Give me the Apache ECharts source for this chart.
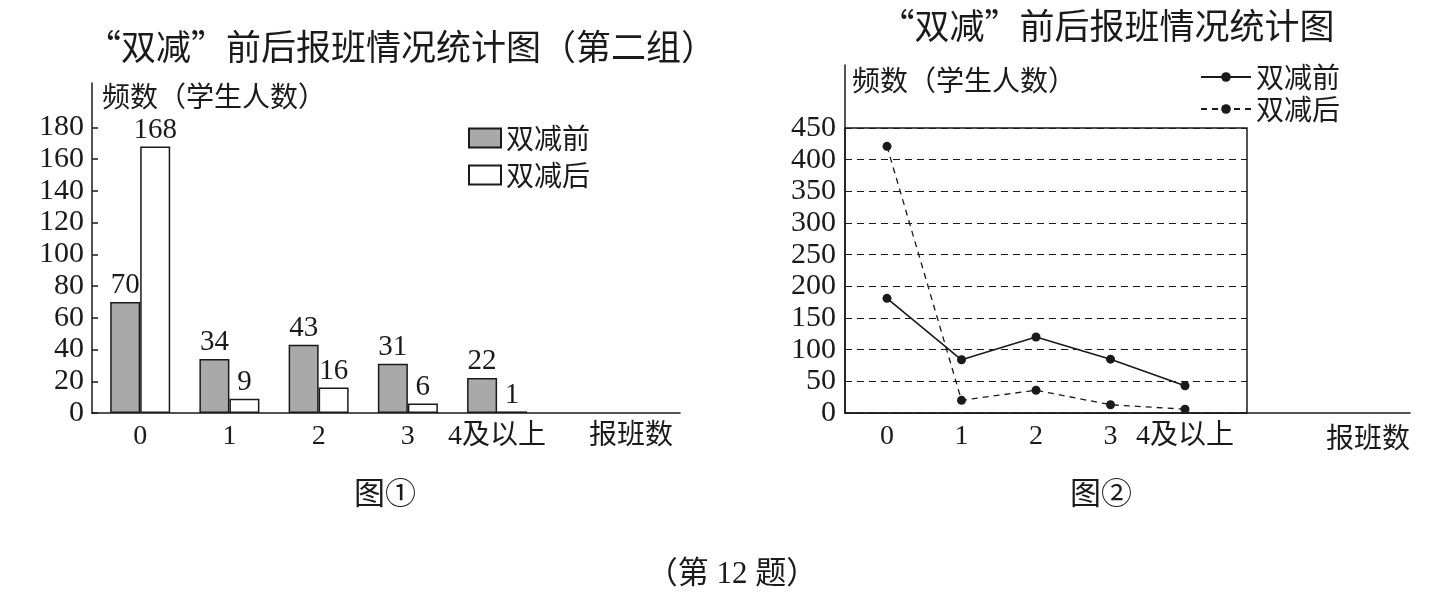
<!DOCTYPE html>
<html>
<head>
<meta charset="utf-8">
<script src="https://cdn.jsdelivr.net/npm/echarts@6/dist/echarts.min.js"></script>
<style>
  html, body { margin: 0; padding: 0; background: #fff; }
  #main { width: 1448px; height: 594px; }
</style>
</head>
<body>
<div id="main"></div>
<script>
// data
const classCounts = ['0', '1', '2', '3', '4及以上'];
const barBefore = [70, 34, 43, 31, 22];
const barAfter = [168, 9, 16, 6, 1];
const lineBefore = [181, 84, 120, 85, 43];
const lineAfter = [421, 20, 36, 13, 6];
const barYTicks = [0, 20, 40, 60, 80, 100, 120, 140, 160, 180];
const lineYTicks = [0, 50, 100, 150, 200, 250, 300, 350, 400, 450];

const FONT = "'Liberation Serif', 'Noto Sans CJK SC', serif";
const CJK = "'Noto Sans CJK SC', 'Liberation Serif', serif";
const INK = '#1a1a1a';

const chart = echarts.init(document.getElementById('main'));

const pairs = (vals) => vals.map((v, i) => [i, v]);
const catName = (v) => (classCounts[v] !== undefined ? classCounts[v] : '报班数');

chart.setOption({
  backgroundColor: '#fff',
  textStyle: { fontFamily: FONT, color: INK },
  animation: false,
  title: [
    { text: '“双减”前后报班情况统计图（第二组）', left: 396, top: 24, textAlign: 'center',
      textStyle: { fontFamily: CJK, fontSize: 35, fontWeight: 'normal', color: INK } },
    { text: '“双减”前后报班情况统计图', left: 1102, top: 3, textAlign: 'center',
      textStyle: { fontFamily: CJK, fontSize: 35, fontWeight: 'normal', color: INK } },
    { text: '图①', left: 380, top: 472, textAlign: 'center',
      textStyle: { fontFamily: CJK, fontSize: 31, fontWeight: 'normal', color: INK } },
    { text: '图②', left: 1096, top: 472, textAlign: 'center',
      textStyle: { fontFamily: CJK, fontSize: 31, fontWeight: 'normal', color: INK } },
    { text: '（第 12 题）', left: 727, top: 554, textAlign: 'center',
      textStyle: { fontFamily: FONT, fontSize: 31, fontWeight: 'normal', color: INK } }
  ],
  legend: [
    { data: ['双减前', '双减后'], orient: 'vertical', left: 463, top: 119, itemGap: 9,
      itemWidth: 32, itemHeight: 19, icon: 'rect',
      textStyle: { fontFamily: CJK, fontSize: 28, color: INK } },
    { data: ['双减前 ', '双减后 '], orient: 'vertical', left: 1195, top: 58, itemGap: 4,
      itemWidth: 50, itemHeight: 12,
      textStyle: { fontFamily: CJK, fontSize: 28, color: INK } }
  ],
  grid: [
    { left: 92, right: 768, top: 83, bottom: 181 },
    { left: 845, right: 201, top: 128, bottom: 181, show: true, borderColor: INK, borderWidth: 1.5 },
    { left: 845, right: 38, top: 65, bottom: 181 }
  ],
  xAxis: [
    { gridIndex: 0, type: 'value', min: -0.54, max: 6.05,
      axisLine: { onZero: false, lineStyle: { color: INK, width: 1.5 } },
      axisTick: { show: false }, splitLine: { show: false },
      axisLabel: { customValues: [0, 1, 2, 3, 4, 5.5], formatter: catName, margin: 10,
        fontFamily: FONT, fontSize: 28, color: INK } },
    { gridIndex: 1, type: 'value', min: -0.564, max: 4.832,
      axisLine: { show: false, onZero: false }, axisTick: { show: false }, splitLine: { show: false },
      axisLabel: { customValues: [0, 1, 2, 3, 4], formatter: catName, margin: 10,
        fontFamily: FONT, fontSize: 28, color: INK } },
    { gridIndex: 2, type: 'value', min: 0, max: 1,
      axisLine: { onZero: false, lineStyle: { color: INK, width: 1.5 } },
      axisTick: { show: false }, splitLine: { show: false }, axisLabel: { show: false },
      name: '报班数', nameLocation: 'end', nameGap: 0,
      nameTextStyle: { align: 'right', verticalAlign: 'top', padding: [10, 0, 0, 0],
        fontFamily: CJK, fontSize: 28, color: INK } }
  ],
  yAxis: [
    { gridIndex: 0, type: 'value', min: 0, max: 208,
      axisLine: { show: true, onZero: false, lineStyle: { color: INK, width: 1.5 } },
      axisTick: { show: true, inside: true, length: 6, customValues: barYTicks, lineStyle: { color: INK, width: 1.5 } },
      splitLine: { show: false },
      axisLabel: { customValues: barYTicks, margin: 8, fontFamily: FONT, fontSize: 30, color: INK },
      name: '频数（学生人数）', nameLocation: 'end', nameGap: -27,
      nameTextStyle: { align: 'left', padding: [0, 0, 0, 10], fontFamily: CJK, fontSize: 28, color: INK } },
    { gridIndex: 1, type: 'value', min: 0, max: 450, interval: 50,
      axisLine: { show: false, onZero: false }, axisTick: { show: false },
      splitLine: { show: true, lineStyle: { color: INK, type: [7, 5], width: 1.2 } },
      axisLabel: { customValues: lineYTicks, margin: 9, fontFamily: FONT, fontSize: 30, color: INK } },
    { gridIndex: 2, type: 'value', min: 0, max: 1,
      axisLine: { show: true, onZero: false, lineStyle: { color: INK, width: 1.5 } },
      axisTick: { show: false }, splitLine: { show: false }, axisLabel: { show: false },
      name: '频数（学生人数）', nameLocation: 'end', nameGap: -29,
      nameTextStyle: { align: 'left', padding: [0, 0, 0, 7], fontFamily: CJK, fontSize: 28, color: INK } }
  ],
  series: [
    { name: '双减前', type: 'bar', xAxisIndex: 0, yAxisIndex: 0, data: pairs(barBefore),
      barWidth: 30, barGap: '0%',
      itemStyle: { color: '#a9a9a9', borderColor: INK, borderWidth: 1.5 },
      label: { show: true, position: 'top', distance: 2, formatter: (p) => p.value[1],
        fontFamily: FONT, fontSize: 29, color: INK } },
    { name: '双减后', type: 'bar', xAxisIndex: 0, yAxisIndex: 0, data: pairs(barAfter),
      barWidth: 30, barGap: '0%',
      itemStyle: { color: '#fff', borderColor: INK, borderWidth: 1.5 },
      label: { show: true, position: 'top', distance: 2, formatter: (p) => p.value[1],
        fontFamily: FONT, fontSize: 29, color: INK } },
    { name: '双减前 ', type: 'line', xAxisIndex: 1, yAxisIndex: 1, data: pairs(lineBefore),
      symbol: 'circle', symbolSize: 9,
      itemStyle: { color: INK }, lineStyle: { color: INK, width: 1.6 } },
    { name: '双减后 ', type: 'line', xAxisIndex: 1, yAxisIndex: 1, data: pairs(lineAfter),
      symbol: 'circle', symbolSize: 9,
      itemStyle: { color: INK }, lineStyle: { color: INK, width: 1.3, type: [6, 5] } }
  ]
});
</script>
</body>
</html>
